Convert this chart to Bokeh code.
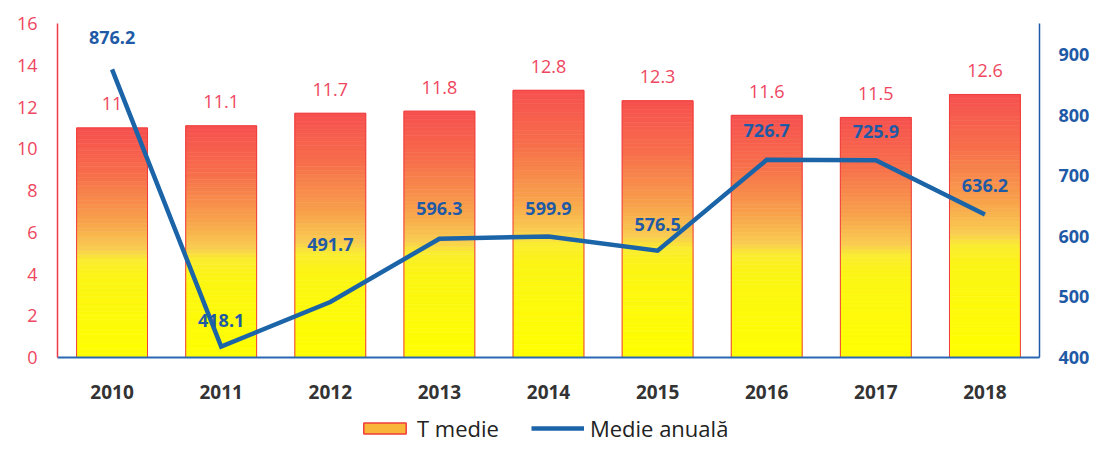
from bokeh.plotting import figure
from bokeh.layouts import column
from bokeh.models import (Range1d, LinearAxis, FactorRange, Legend, LegendItem,
                          FixedTicker, ColumnDataSource)
from bokeh.embed import file_html
from bokeh.resources import INLINE
from bokeh.core.properties import value

years = ["2010", "2011", "2012", "2013", "2014", "2015", "2016", "2017", "2018"]
t_medie = [11, 11.1, 11.7, 11.8, 12.8, 12.3, 11.6, 11.5, 12.6]
medie_anuala = [876.2, 418.1, 491.7, 596.3, 599.9, 576.5, 726.7, 725.9, 636.2]
left_ticks = [0, 2, 4, 6, 8, 10, 12, 14, 16]
right_ticks = [400, 500, 600, 700, 800, 900]
series_names = ["T medie", "Medie anuală"]

FONT = "Open Sans"
RED_TXT = "#ee4660"
BLUE = "#1c64a8"
BLUE_TXT = "#1f5aa6"
W = 1092

p = figure(x_range=FactorRange(factors=years), y_range=Range1d(0, 16),
           width=W, height=411, output_backend="svg", toolbar_location=None,
           min_border_left=57, min_border_right=52, min_border_top=23,
           min_border_bottom=54)
p.extra_y_ranges = {"right": Range1d(400, 952)}
p.xgrid.grid_line_color = None
p.ygrid.grid_line_color = None
p.outline_line_color = None

# gradient stops (fraction from bottom of bar -> colour)
stops = [(0.0, (255, 255, 0)), (0.35, (252, 245, 20)), (0.43, (250, 235, 50)),
         (0.47, (249, 205, 80)), (0.6, (248, 160, 75)), (0.8, (247, 110, 75)),
         (1.0, (246, 80, 78))]


def grad(g):
    for (a, ca), (b, cb) in zip(stops[:-1], stops[1:]):
        if a <= g <= b:
            t = (g - a) / (b - a)
            c = [round(ca[i] + (cb[i] - ca[i]) * t) for i in range(3)]
            return "#%02x%02x%02x" % tuple(c)
    return "#%02x%02x%02x" % stops[-1][1]


N = 60
BW = 0.65
for k in range(N):
    c = grad((k + 0.5) / N)
    p.vbar(x=years, bottom=[v * k / N for v in t_medie],
           top=[v * (k + 1) / N for v in t_medie], width=BW,
           fill_color=c, line_color=c, line_width=0.6)
p.vbar(x=years, top=t_medie, width=BW, fill_alpha=0, line_color="#f03c3c", line_width=1)

# bar labels
bar_src = ColumnDataSource(dict(x=years, y=t_medie, t=["%g" % v for v in t_medie]))
p.text(x="x", y="y", text="t", source=bar_src, text_align="center",
       text_baseline="middle", y_offset=-24, text_color=RED_TXT,
       text_font=value(FONT), text_font_size="18px")

# line
p.line(x=years, y=medie_anuala, y_range_name="right", line_color=BLUE,
       line_width=4.5, line_join="miter")

label_dy = [-32, -26, -58, -30, -28, -26, -29, -29, -29]
for i in range(len(years)):
    p.text(x=[years[i]], y=[medie_anuala[i]], text=["%.1f" % medie_anuala[i]],
           y_range_name="right", text_align="center", text_baseline="middle",
           y_offset=label_dy[i], text_color=BLUE_TXT, text_font=value(FONT),
           text_font_size="18px", text_font_style="bold")

# axes
p.yaxis.ticker = FixedTicker(ticks=left_ticks)
p.yaxis.axis_line_color = "#ee3a4a"
p.yaxis.axis_line_width = 1.5
p.yaxis.major_tick_line_color = None
p.yaxis.minor_tick_line_color = None
p.yaxis.major_tick_out = 0
p.yaxis.major_label_text_color = RED_TXT
p.yaxis.major_label_text_font = FONT
p.yaxis.major_label_text_font_size = "18px"
p.yaxis.major_label_standoff = 20

p.xaxis.axis_line_color = "#2a68b4"
p.xaxis.axis_line_width = 2
p.xaxis.major_tick_line_color = None
p.xaxis.minor_tick_line_color = None
p.xaxis.major_tick_out = 0
p.xaxis.major_label_text_color = "#333333"
p.xaxis.major_label_text_font = FONT
p.xaxis.major_label_text_font_style = "bold"
p.xaxis.major_label_text_font_size = "19px"
p.xaxis.major_label_standoff = 27

ra = LinearAxis(y_range_name="right", ticker=FixedTicker(ticks=right_ticks))
ra.axis_line_color = "#1f5aa8"
ra.axis_line_width = 1.5
ra.major_tick_line_color = None
ra.minor_tick_line_color = None
ra.major_tick_out = 0
ra.major_label_text_color = BLUE_TXT
ra.major_label_text_font = FONT
ra.major_label_text_font_style = "bold"
ra.major_label_text_font_size = "18px"
ra.major_label_standoff = 19
p.add_layout(ra, "right")

# legend strip (separate small figure below the chart)
lf = figure(width=W, height=32, x_range=Range1d(0, 1), y_range=Range1d(0, 1),
            x_axis_type=None, y_axis_type=None, output_backend="svg",
            toolbar_location=None, min_border=0)
lf.outline_line_color = None
lf.xgrid.grid_line_color = None
lf.ygrid.grid_line_color = None
leg_bar = lf.quad(left=[5], right=[6], bottom=[5], top=[6],
                  fill_color="#f9b43a", line_color="#f03c3c", line_width=1.5)
leg_line = lf.line(x=[5, 6], y=[5, 6], line_color=BLUE, line_width=4.5)
legend = Legend(items=[LegendItem(label=series_names[0], renderers=[leg_bar]),
                       LegendItem(label=series_names[1], renderers=[leg_line])],
                orientation="horizontal", location=(301, 0),
                glyph_width=53, glyph_height=14, label_standoff=6, spacing=32,
                padding=2, margin=0, border_line_color=None,
                background_fill_alpha=0, label_text_font=FONT,
                label_text_font_size="22px", label_text_color="#222222")
lf.add_layout(legend)

layout = column(p, lf, spacing=0)
open("out.html", "w").write(file_html(layout, INLINE))
